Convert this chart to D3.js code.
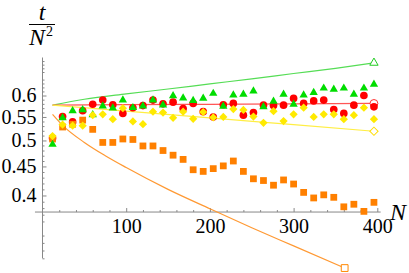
<!DOCTYPE html>
<html>
<head>
<meta charset="utf-8">
<script src="https://cdn.jsdelivr.net/npm/d3@7"></script>
<style>
  body { margin: 0; background: #fff; }
  svg { display: block; }
</style>
</head>
<body>
<svg id="chart"></svg>
<script>
// Data
const sizes = [12, 24, 36, 48, 60, 72, 84, 96, 108, 120, 132, 144, 156, 168, 180, 192, 204,
  216, 228, 240, 252, 264, 276, 288, 300, 312, 324, 336, 348, 360, 372, 384, 396];

const redValues = [0.505, 0.551, 0.539, 0.564, 0.579, 0.589, 0.578, 0.558, 0.571, 0.576, 0.589,
  0.580, 0.584, 0.569, 0.581, 0.562, 0.550, 0.578, 0.581, 0.554, 0.560, 0.577, 0.576, 0.577,
  0.593, 0.581, 0.587, 0.589, 0.567, 0.558, 0.577, 0.600, 0.573];
const greenValues = [0.492, 0.548, 0.564, 0.566, 0.555, 0.575, 0.570, 0.589, 0.571, 0.575, 0.589,
  0.577, 0.599, 0.594, 0.588, 0.593, 0.605, 0.574, 0.601, 0.603, 0.611, 0.573, 0.586, 0.603,
  0.579, 0.601, 0.607, 0.618, 0.615, 0.618, 0.603, 0.618, 0.628];
const yellowValues = [0.509, 0.533, 0.531, 0.531, 0.554, 0.556, 0.545, 0.570, 0.540, 0.534, 0.562,
  0.560, 0.548, 0.562, 0.546, 0.561, 0.549, 0.550, 0.568, 0.566, 0.551, 0.537, 0.563, 0.541,
  0.556, 0.571, 0.550, 0.556, 0.556, 0.545, 0.554, 0.571, 0.545];
const orangeValues = [0.503, 0.528, 0.534, 0.543, 0.523, 0.496, 0.496, 0.503, 0.502, 0.489, 0.489,
  0.480, 0.471, 0.463, 0.444, 0.441, 0.446, 0.451, 0.460, 0.441, 0.428, 0.425, 0.417, 0.426,
  0.419, 0.405, 0.396, 0.401, 0.397, 0.382, 0.386, 0.375, 0.389];

// Theory curves
const greenCurveN = [12, 50, 100, 150, 200, 250, 300, 350, 396];
const greenCurveT = [0.577, 0.591, 0.604, 0.616, 0.629, 0.642, 0.656, 0.670, 0.685];
const redCurveN = [12, 100, 200, 300, 396];
const redCurveT = [0.577, 0.578, 0.579, 0.580, 0.581];
const yellowCurveN = [12, 100, 200, 300, 396];
const yellowCurveT = [0.577, 0.563, 0.548, 0.533, 0.519];
const orangeCurveN = [12, 25, 50, 75, 100, 150, 200, 250, 300, 361];
const orangeCurveT = [0.556, 0.530, 0.496, 0.470, 0.448, 0.410, 0.379, 0.351, 0.326, 0.298];

const xTickValues = [100, 200, 300, 400];
const xTickLabels = ["100", "200", "300", "400"];
const yTickValues = [0.4, 0.45, 0.5, 0.55, 0.6];
const yTickLabels = ["0.4", "0.45", "0.5", "0.55", "0.6"];

// Layout
const width = 409, height = 273;
const serif = "'Liberation Serif'";
const svg = d3.select("#chart").attr("width", width).attr("height", height);

const x = d3.scaleLinear().domain([0, 400]).range([42.5, 377.3]);
const y = d3.scaleLog().domain([0.3, 0.7]).range([266.4, 57.5]);
const axisOriginT = 0.374;
const axisColor = "#888";

// Axes
const xAxisY = y(axisOriginT);
svg.append("line")
  .attr("x1", x(-9)).attr("x2", x(404))
  .attr("y1", xAxisY).attr("y2", xAxisY)
  .attr("stroke", axisColor);
svg.append("line")
  .attr("x1", x(0)).attr("x2", x(0))
  .attr("y1", y(0.7)).attr("y2", y(0.31))
  .attr("stroke", axisColor);

const xMinor = d3.range(20, 401, 20).filter(d => d % 100 !== 0);
svg.append("g")
  .attr("transform", `translate(0,${xAxisY})`)
  .call(d3.axisBottom(x).tickValues(xTickValues).tickSize(-4).tickPadding(7)
    .tickFormat((d, i) => xTickLabels[i]));
svg.append("g")
  .attr("transform", `translate(0,${xAxisY})`)
  .call(d3.axisBottom(x).tickValues(xMinor).tickSize(-2).tickFormat(""));

const yMinor = d3.range(0.31, 0.705, 0.01).filter(d => Math.round(d * 100) % 5 !== 0);
svg.append("g")
  .attr("transform", `translate(${x(0)},0)`)
  .call(d3.axisLeft(y).tickValues(yTickValues).tickSize(-4).tickPadding(6)
    .tickFormat((d, i) => yTickLabels[i]));
svg.append("g")
  .attr("transform", `translate(${x(0)},0)`)
  .call(d3.axisLeft(y).tickValues(yMinor).tickSize(-2).tickFormat(""));

svg.selectAll(".domain").remove();
svg.selectAll("g").attr("font-family", "Liberation Serif");
svg.selectAll(".tick line").attr("stroke", axisColor);
svg.selectAll(".tick text")
  .style("font-family", serif)
  .style("font-size", "20px")
  .attr("fill", "#000");

// Axis labels
svg.append("text")
  .attr("x", 42).attr("y", 20)
  .attr("text-anchor", "middle")
  .style("font-family", serif).style("font-size", "24px").style("font-style", "italic")
  .text("t");
svg.append("line")
  .attr("x1", 29).attr("x2", 55).attr("y1", 24.5).attr("y2", 24.5)
  .attr("stroke", "#000").attr("stroke-width", 1);
const nsq = svg.append("text")
  .attr("x", 29).attr("y", 45)
  .style("font-family", serif).style("font-size", "24px");
nsq.append("tspan").style("font-style", "italic").text("N");
nsq.append("tspan").style("font-size", "14px").attr("dy", -9).attr("dx", 1).text("2");

svg.append("text")
  .attr("x", 390).attr("y", 220)
  .style("font-family", serif).style("font-size", "24px").style("font-style", "italic")
  .text("N");

// Theory curves
const line = d3.line()
  .x(d => x(d[0]))
  .y(d => y(d[1]))
  .curve(d3.curveMonotoneX);

const curves = [
  { n: greenCurveN, t: greenCurveT, color: "#55dd55" },
  { n: redCurveN, t: redCurveT, color: "#ff5555" },
  { n: yellowCurveN, t: yellowCurveT, color: "#ffee44" },
  { n: orangeCurveN, t: orangeCurveT, color: "#ff9933" }
];

svg.selectAll("path.curve")
  .data(curves)
  .enter()
  .append("path")
  .attr("class", "curve")
  .attr("d", d => line(d.n.map((v, i) => [v, d.t[i]])))
  .attr("fill", "none")
  .attr("stroke", d => d.color)
  .attr("stroke-width", 1.2);

// Symbols
const tri = d3.symbol(d3.symbolTriangle, 30);
const sq = d3.symbol(d3.symbolSquare, 46);
const dia = d3.symbol(d3.symbolSquare, 34);

// open markers at the ends of the curves
const openMarks = [
  { n: greenCurveN, t: greenCurveT, color: "#22cc22", sym: tri(), rot: 0 },
  { n: redCurveN, t: redCurveT, color: "#ff3333", sym: d3.symbol(d3.symbolCircle, 48)(), rot: 0 },
  { n: yellowCurveN, t: yellowCurveT, color: "#ffdd00", sym: dia(), rot: 45 },
  { n: orangeCurveN, t: orangeCurveT, color: "#ff8800", sym: sq(), rot: 0 }
];
svg.selectAll("path.open")
  .data(openMarks)
  .enter()
  .append("path")
  .attr("class", "open")
  .attr("d", d => d.sym)
  .attr("transform", d => `translate(${x(d.n[d.n.length - 1])},${y(d.t[d.t.length - 1])}) rotate(${d.rot})`)
  .attr("fill", "#fff")
  .attr("stroke", d => d.color)
  .attr("stroke-width", 1);

// Data points
function drawPoints(values, cls, color, shape, rot) {
  svg.selectAll("path." + cls)
    .data(values)
    .enter()
    .append("path")
    .attr("class", cls)
    .attr("d", shape)
    .attr("transform", (d, i) => `translate(${x(sizes[i])},${y(d)}) rotate(${rot})`)
    .attr("fill", color);
}

drawPoints(redValues, "red", "#ff0000", d3.symbol(d3.symbolCircle, 46)(), 0);
drawPoints(orangeValues, "orange", "#ff8000", sq(), 0);
drawPoints(greenValues, "green", "#00dd00", tri(), 0);
drawPoints(yellowValues, "yellow", "#ffea00", dia(), 45);
</script>
</body>
</html>
